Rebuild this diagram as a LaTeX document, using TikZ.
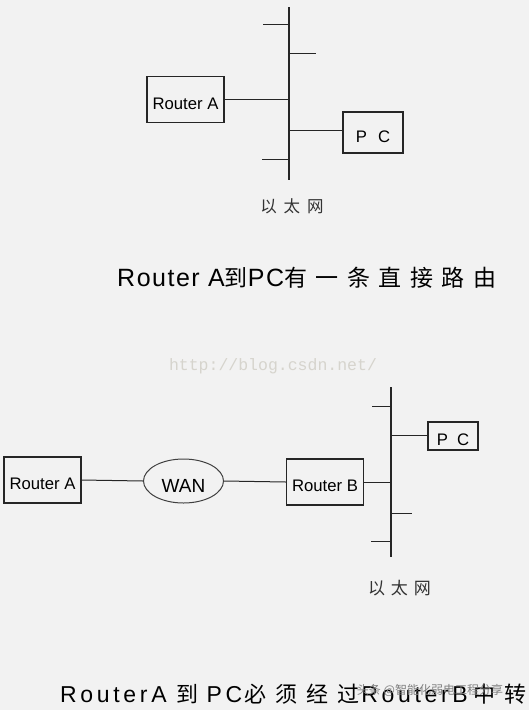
\documentclass[tikz,border=0pt]{standalone}
\usepackage{fontspec}
\setmainfont{Liberation Sans}
\newfontfamily\cjk{Noto Sans CJK SC}
\newfontfamily\titlelat[LetterSpace=6]{Liberation Sans}
\newfontfamily\titlecjk[LetterSpace=37]{Noto Sans CJK SC}
\newfontfamily\titlelatB[LetterSpace=16]{Liberation Sans}
\newfontfamily\titlecjkB[LetterSpace=41]{Noto Sans CJK SC}
\newfontfamily\wmfont{Liberation Mono}
\usetikzlibrary{positioning}
\usetikzlibrary{shapes,backgrounds}
\definecolor{bggray}{RGB}{242,242,242}
\definecolor{wmgray}{RGB}{214,212,205}

\begin{document}
\begin{tikzpicture}[x=1pt,y=-1pt,
    box/.style={draw=black!85, line width=1.2pt, minimum width=77pt, minimum height=46pt, inner sep=0pt,
      text height=19pt, text depth=0pt, font=\fontsize{16.7}{18}\selectfont},
    cloud/.style={ellipse, draw=black!75, line width=1pt, minimum width=80pt, minimum height=44pt, inner sep=0pt,
      text height=22pt, text depth=0pt, font=\fontsize{19}{20}\selectfont},
    wire/.style={line width=1pt, black!85},
    bus/.style={line width=1.5pt, black!85},
    netlabel/.style={font=\cjk\fontsize{16.5}{18}\selectfont, text=black!80},
    headline/.style={anchor=base west, inner sep=0pt},
]
\fill[bggray] (0,0) rectangle (529,710);
\useasboundingbox (0,0) rectangle (529,710);

% direct route
\node[box] (ra1) at (185.5,99.5) {Router A};
\node[box, minimum width=60pt, minimum height=41pt] (pc1) at (373,132.5) {P\hspace{11pt}C};
\coordinate (bus1t) at (289,7);
\coordinate (bus1b) at (289,180);
\draw[bus] (bus1t) -- (bus1b);
\foreach \y/\x in {24/263, 53/316, 159/262}
  \draw[wire] (289,\y) -- (\x,\y);
\draw[wire] (ra1.east) -- (ra1.east -| bus1t);
\coordinate (tap1) at (289,130);
\draw[wire] (tap1) -- (tap1 -| pc1.west);
\node[netlabel] (eth1) at (292,206.5) {以\hspace{7pt}太\hspace{7pt}网};
\node[headline] (title1) at (117,286)
  {\titlelat\fontsize{25}{28}\selectfont Router A{\titlecjk\fontsize{23}{28}\selectfont 到}PC{\titlecjk\fontsize{23}{28}\selectfont 有一条直接路由}};

\node[font=\wmfont\fontsize{16.5}{18}\selectfont, text=wmgray] (csdn) at (273,366) {http://blog.csdn.net/};

% route via Router B
\node[box] (ra2) at (42.5,480) {Router A};
\node[cloud] (wan) at (183.5,481) {WAN};
\node[box] (rb) at (325,482) {Router B};
\node[box, minimum width=50pt, minimum height=28pt] (pc2) at (453,436) {P\hspace{9pt}C};
\coordinate (bus2t) at (391,387);
\coordinate (bus2b) at (391,557);
\draw[bus] (bus2t) -- (bus2b);
\foreach \y/\x in {406/372, 513/412, 541/371}
  \draw[wire] (391,\y) -- (\x,\y);
\draw[wire] (ra2.east) -- (wan.west);
\draw[wire] (wan.east) -- (rb.west);
\draw[wire] (rb.east) -- (rb.east -| bus2t);
\coordinate (tap2) at (391,435);
\draw[wire] (tap2) -- (tap2 -| pc2.west);
\node[netlabel, font=\cjk\fontsize{17}{18}\selectfont] (eth2) at (399.5,588.5) {以\hspace{6pt}太\hspace{6pt}网};
\node[headline] (title2) at (60,702)
  {\titlelatB\fontsize{23}{28}\selectfont RouterA\hspace{10pt}{\titlecjkB\fontsize{22}{28}\selectfont 到}\hspace{8pt}PC\hspace{2pt}{\titlecjkB\fontsize{22}{28}\selectfont 必须经过}\hspace{2pt}RouterB\hspace{6pt}{\titlecjkB\fontsize{22}{28}\selectfont 中转}};
\node[font=\cjk\fontsize{12}{14}\selectfont, text=black!50] (tt) at (430,690) {头条 @智能化弱电工程分享};
\end{tikzpicture}
\end{document}
